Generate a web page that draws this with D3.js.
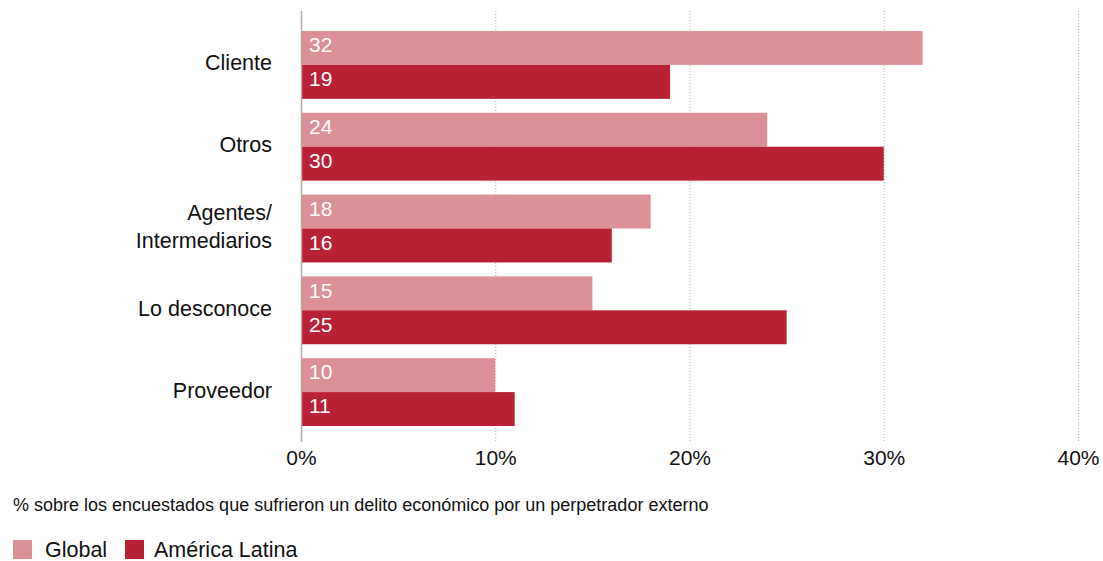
<!DOCTYPE html>
<html>
<head>
<meta charset="utf-8">
<script src="https://cdn.jsdelivr.net/npm/d3@7"></script>
<style>
  html, body { margin: 0; padding: 0; background: #ffffff; }
  svg { display: block; font-family: "Liberation Sans", Arial, Helvetica, sans-serif; }
</style>
</head>
<body>
<svg id="chart" width="1103" height="561"></svg>
<script>
// Perpetrator categories (two-line labels split on "\n")
const categories = ["Cliente", "Otros", "Agentes/\nIntermediarios", "Lo desconoce", "Proveedor"];
const seriesNames = ["Global", "América Latina"];
const globalValues = [32, 24, 18, 15, 10];
const latamValues = [19, 30, 16, 25, 11];
const xTicks = [0, 10, 20, 30, 40];
const caption = "% sobre los encuestados que sufrieron un delito económico por un perpetrador externo";

const colors = { "Global": "#dc9198", "América Latina": "#b92134" };

const rows = categories.map((c, i) => ({
  category: c,
  values: [
    { series: "Global", value: globalValues[i] },
    { series: "América Latina", value: latamValues[i] }
  ]
}));

const svg = d3.select("#chart");

const x = d3.scaleLinear().domain([0, 40]).range([301, 1078]);
const y0 = d3.scaleBand().domain(categories).range([24, 433])
  .paddingInner(0.17).paddingOuter(0.085);
const y1 = d3.scaleBand().domain(seriesNames).range([0, y0.bandwidth()]);

// Dotted vertical gridlines
svg.append("g")
  .selectAll("line")
  .data(xTicks.filter(t => t > 0))
  .join("line")
  .attr("x1", d => x(d) + 0.5).attr("x2", d => x(d) + 0.5)
  .attr("y1", 11).attr("y2", 442)
  .attr("stroke", "#b5aaa3")
  .attr("stroke-width", 1)
  .attr("stroke-dasharray", "1,2");

// Bars
const groups = svg.append("g")
  .selectAll("g")
  .data(rows)
  .join("g")
  .attr("transform", d => `translate(0,${y0(d.category)})`);

groups.selectAll("rect")
  .data(d => d.values)
  .join("rect")
  .attr("x", x(0))
  .attr("y", d => y1(d.series))
  .attr("width", d => x(d.value) - x(0))
  .attr("height", y1.bandwidth())
  .attr("fill", d => colors[d.series]);

groups.selectAll("text")
  .data(d => d.values)
  .join("text")
  .attr("x", x(0) + 8)
  .attr("y", d => y1(d.series) + y1.bandwidth() / 2 - 3)
  .attr("dy", "0.35em")
  .attr("fill", "#ffffff")
  .attr("font-size", 21)
  .text(d => d.value);

// Baseline axis
svg.append("line")
  .attr("x1", x(0) + 0.5).attr("x2", x(0) + 0.5)
  .attr("y1", 11).attr("y2", 442)
  .attr("stroke", "#b3aba6")
  .attr("stroke-width", 1.5);

// Category labels
const catG = svg.append("g");
rows.forEach(r => {
  const lines = r.category.split("\n");
  const cy = y0(r.category) + y0.bandwidth() / 2 - 2;
  const lh = 28;
  const t = catG.append("text")
    .attr("text-anchor", "end")
    .attr("font-size", 21.5)
    .attr("fill", "#111111");
  lines.forEach((ln, i) => {
    t.append("tspan")
      .attr("x", 272)
      .attr("y", cy + (i - (lines.length - 1) / 2) * lh)
      .attr("dy", "0.35em")
      .text(ln);
  });
});

// X axis tick labels
const xAxis = d3.axisBottom(x)
  .tickValues(xTicks)
  .tickFormat(d => d + "%")
  .tickSize(0)
  .tickPadding(0);
const axG = svg.append("g")
  .attr("transform", "translate(0,450)")
  .call(xAxis);
axG.select(".domain").remove();
axG.selectAll("text")
  .attr("font-size", 21)
  .attr("fill", "#111111")
  .attr("font-family", "Liberation Sans, Arial, sans-serif");

// Caption
svg.append("text")
  .attr("x", 13).attr("y", 511)
  .attr("font-size", 18)
  .attr("fill", "#111111")
  .text(caption);

// Legend
const legendX = [13, 125];
const legendTextX = [45, 154];
const legend = svg.append("g");
seriesNames.forEach((s, i) => {
  legend.append("rect")
    .attr("x", legendX[i]).attr("y", 540)
    .attr("width", 19).attr("height", 19)
    .attr("fill", colors[s]);
  legend.append("text")
    .attr("x", legendTextX[i]).attr("y", 557)
    .attr("font-size", 21.5)
    .attr("fill", "#111111")
    .text(s);
});
</script>
</body>
</html>
